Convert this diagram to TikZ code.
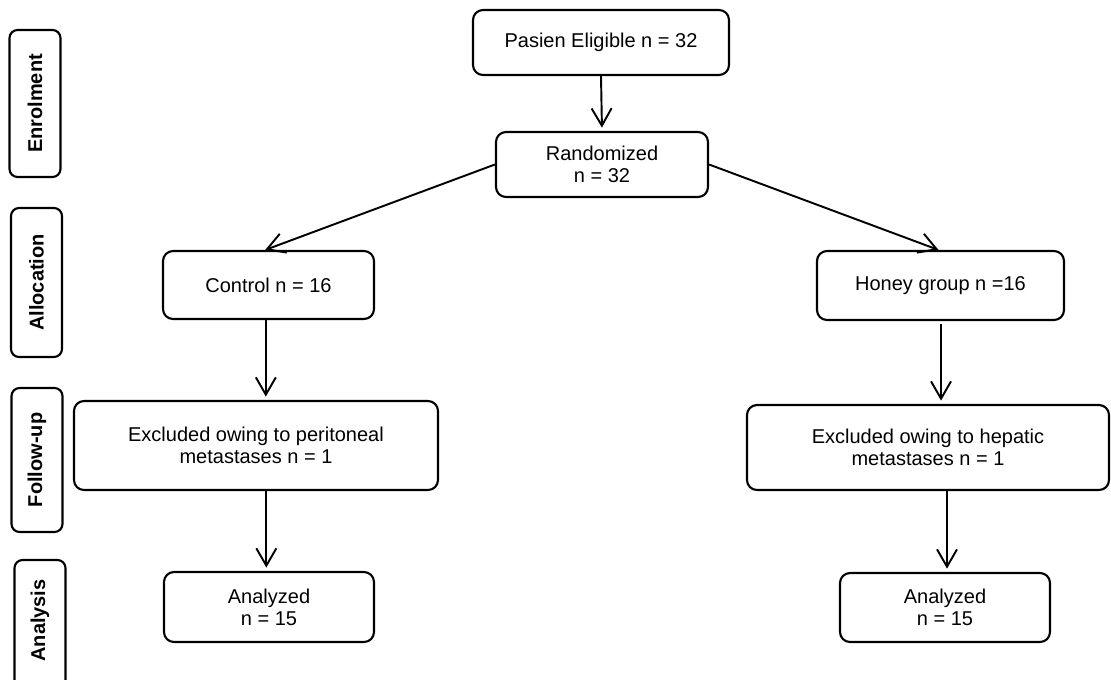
\documentclass[tikz,border=0pt]{standalone}
\usepackage{fontspec}
\setmainfont{Liberation Sans}
\usetikzlibrary{arrows.meta}
\begin{document}
\begin{tikzpicture}[x=0.75pt,y=-0.75pt,
  box/.style={draw,line width=1.6pt,rounded corners=7.5pt,align=center,inner sep=0pt,
    font=\fontsize{15pt}{16.5pt}\selectfont},
  sidebox/.style={draw,line width=1.6pt,rounded corners=6pt,inner sep=0pt,minimum width=38.25pt,
    font=\bfseries\fontsize{15pt}{16.5pt}\selectfont},
  arr/.style={line width=1.45pt,-{Straight Barb[length=13pt,width=15pt]}},
  gap/.style={shorten >=2.5pt}]
\useasboundingbox (0,0) rectangle (1111,679);
% side labels
\node[sidebox,minimum height=110.25pt] (enr) at (35,103.5) {\rotatebox{90}{Enrolment}};
\node[sidebox,minimum height=111.75pt] (alo) at (36.5,282.5) {\rotatebox{90}{Allocation}};
\node[sidebox,minimum height=108pt] (fol) at (37,460) {\rotatebox{90}{Follow-up}};
\node[sidebox,minimum height=105pt] (anabox) at (40,630) {};
\node[font=\bfseries\fontsize{15pt}{16.5pt}\selectfont,inner sep=0pt] (ana) at (40,620.5) {\rotatebox{90}{Analysis}};
% main boxes
\node[box,minimum width=192pt,minimum height=48.75pt] (elig) at (601,42.5) {Pasien Eligible n = 32};
\node[box,minimum width=159pt,minimum height=48.75pt] (rand) at (602,164.5) {Randomized\\n = 32};
\node[box,minimum width=158.25pt,minimum height=51pt] (ctrl) at (268.5,285) {Control n = 16};
\node[box,minimum width=185.25pt,minimum height=51.75pt] (honey) at (940.5,285.5) {Honey group n =16};
\node[box,minimum width=273pt,minimum height=66.75pt] (exl) at (256,445.5) {Excluded owing to peritoneal\\metastases n = 1};
\node[box,minimum width=271.5pt,minimum height=63.75pt] (exr) at (928,447.5) {Excluded owing to hepatic\\metastases n = 1};
\node[box,minimum width=157.5pt,minimum height=52.5pt] (anl) at (269,607) {Analyzed\\n = 15};
\node[box,minimum width=157.5pt,minimum height=51.75pt] (anr) at (945,607.5) {Analyzed\\n = 15};
% connectors
\draw[arr,gap] (elig.south) -- (rand.north);
\draw[arr] (rand.west) -- ([xshift=-2.5pt]ctrl.north);
\draw[arr] (rand.east) -- ([xshift=-1.5pt]honey.north);
\draw[arr,gap] ([xshift=-2pt]ctrl.south) -- ([xshift=-2pt]ctrl.south |- exl.north);
\draw[arr,gap,shorten <=2pt] ([xshift=0.4pt]honey.south) -- ([xshift=0.4pt]honey.south |- exr.north);
\draw[arr,gap] ([xshift=-2pt]anl.north |- exl.south) -- ([xshift=-2pt]anl.north);
\draw[arr,gap] ([xshift=1.5pt]exr.south -| anr.north) -- ([xshift=1.5pt]anr.north);
\end{tikzpicture}
\end{document}
